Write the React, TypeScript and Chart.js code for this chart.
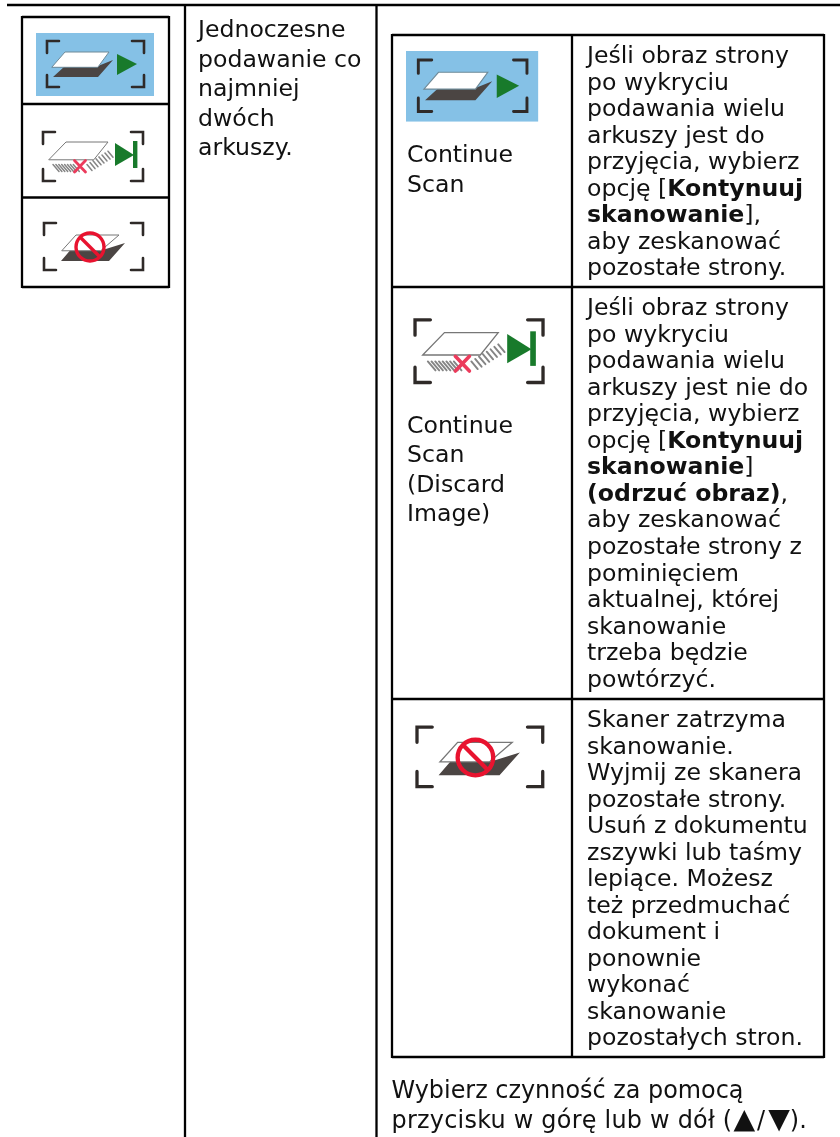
import React, { useEffect, useRef } from "react";
import { Chart, registerables } from "chart.js";

Chart.register(...registerables);

const FONT = '"DejaVu Sans", Verdana, sans-serif';
const FONT_SIZE = 23.6;

type Run = { t: string; b?: boolean; k?: number; dx?: number; ls?: number };
type Block = { x: number; y: number; step: number; size?: number; lines: (string | Run[])[] };

const leftLines = ["Jednoczesne", "podawanie co", "najmniej", "dwóch", "arkuszy."];
const continueLabel = ["Continue", "Scan"];
const discardLabel = ["Continue", "Scan", "(Discard", "Image)"];
const row1Lines: (string | Run[])[] = [
  "Jeśli obraz strony",
  "po wykryciu",
  "podawania wielu",
  "arkuszy jest do",
  "przyjęcia, wybierz",
  [{ t: "opcję [" }, { t: "Kontynuuj", b: true }],
  [{ t: "skanowanie", b: true }, { t: "]," }],
  "aby zeskanować",
  "pozostałe strony.",
];
const row2Lines: (string | Run[])[] = [
  "Jeśli obraz strony",
  "po wykryciu",
  "podawania wielu",
  "arkuszy jest nie do",
  "przyjęcia, wybierz",
  [{ t: "opcję [" }, { t: "Kontynuuj", b: true }],
  [{ t: "skanowanie", b: true }, { t: "]" }],
  [{ t: "(odrzuć obraz)", b: true }, { t: "," }],
  "aby zeskanować",
  "pozostałe strony z",
  "pominięciem",
  "aktualnej, której",
  "skanowanie",
  "trzeba będzie",
  "powtórzyć.",
];
const row3Lines: (string | Run[])[] = [
  "Skaner zatrzyma",
  "skanowanie.",
  "Wyjmij ze skanera",
  "pozostałe strony.",
  "Usuń z dokumentu",
  "zszywki lub taśmy",
  "lepiące. Możesz",
  "też przedmuchać",
  "dokument i",
  "ponownie",
  "wykonać",
  "skanowanie",
  "pozostałych stron.",
];
const footerLines: (string | Run[])[] = [
  "Wybierz czynność za pomocą",
  [
    { t: "przycisku w górę lub w dół (", ls: 0.25 },
    { t: "▲", k: 1.18, dx: 1 },
    { t: "/", dx: 2 },
    { t: "▼", k: 1.18, dx: 3 },
    { t: ")." },
  ],
];

const blocks: Block[] = [
  { x: 198, y: 37, step: 29.5, lines: leftLines },
  { x: 407, y: 162, step: 30, lines: continueLabel },
  { x: 407, y: 433, step: 29.4, lines: discardLabel },
  { x: 587, y: 63, step: 26.5, lines: row1Lines },
  { x: 587, y: 315, step: 26.55, lines: row2Lines },
  { x: 587, y: 727, step: 26.5, lines: row3Lines },
  { x: 391.5, y: 1098, step: 30, size: 23.9, lines: footerLines },
];

// [x1, y1, x2, y2] table rules
const rules: number[][] = [
  [7, 5, 840, 5],
  [185, 5, 185, 1137],
  [376.5, 5, 376.5, 1137],
  [22, 17, 169, 17],
  [22, 104, 169, 104],
  [22, 197.5, 169, 197.5],
  [22, 287, 169, 287],
  [22, 16, 22, 288],
  [169, 16, 169, 288],
  [392, 35, 824, 35],
  [392, 287, 824, 287],
  [392, 699, 824, 699],
  [392, 1057, 824, 1057],
  [392, 34, 392, 1058],
  [572, 34, 572, 1058],
  [824, 34, 824, 1058],
];

function poly(ctx: any, pts: number[][], fill?: string, stroke?: string, lw = 1) {
  ctx.beginPath();
  pts.forEach((p, i) => (i ? ctx.lineTo(p[0], p[1]) : ctx.moveTo(p[0], p[1])));
  ctx.closePath();
  if (fill) { ctx.fillStyle = fill; ctx.fill(); }
  if (stroke) { ctx.strokeStyle = stroke; ctx.lineWidth = lw; ctx.stroke(); }
}

function corners(ctx: any, x0: number, y0: number, x1: number, y1: number, a: number) {
  ctx.strokeStyle = "#2f2a28";
  ctx.lineWidth = 2.6;
  ctx.lineCap = "round";
  const c = [
    [x0, y0 + a, x0, y0, x0 + a, y0],
    [x1 - a, y0, x1, y0, x1, y0 + a],
    [x0, y1 - a, x0, y1, x0 + a, y1],
    [x1 - a, y1, x1, y1, x1, y1 - a],
  ];
  c.forEach((s) => {
    ctx.beginPath();
    ctx.moveTo(s[0], s[1]);
    ctx.lineTo(s[2], s[3]);
    ctx.lineTo(s[4], s[5]);
    ctx.stroke();
  });
}

// Icons are drawn in a local box at the small icon's size
function iconScan(ctx: any) {
  ctx.fillStyle = "#85c1e6";
  ctx.fillRect(0, 0, 118, 63);
  corners(ctx, 11, 8, 108, 54, 12);
  poly(ctx, [[17, 44], [29, 33], [62, 33], [77, 27], [62, 44]], "#4b4543");
  poly(ctx, [[16, 34], [29, 19], [73, 19], [62, 34]], "#ffffff", "#6f8a98", 1);
  poly(ctx, [[81, 21], [101, 31], [81, 42]], "#187a2b");
}
function iconDiscard(ctx: any) {
  corners(ctx, 9, 10, 109, 59, 12);
  ctx.strokeStyle = "#858585";
  ctx.lineWidth = 1.5;
  for (let x = 19; x < 40; x += 2.9) {
    ctx.beginPath();
    ctx.moveTo(x, 42.5);
    ctx.lineTo(x + 6, 49.5);
    ctx.stroke();
  }
  for (let i = 0; i < 8; i++) {
    const x = 53 + i * 3;
    const y = 42.5 - i * 1.9;
    ctx.beginPath();
    ctx.moveTo(x, y);
    ctx.lineTo(x + 5, y + 6);
    ctx.stroke();
  }
  poly(ctx, [[15, 37.5], [32, 20], [74, 20], [60, 37.5]], "#ffffff", "#777", 1);
  ctx.strokeStyle = "#ec3b5c";
  ctx.lineWidth = 2.8;
  ctx.beginPath();
  ctx.moveTo(40.5, 38.5); ctx.lineTo(51.5, 50);
  ctx.moveTo(51.5, 38.5); ctx.lineTo(40.5, 50);
  ctx.stroke();
  poly(ctx, [[81, 21], [100, 33], [81, 44]], "#187a2b");
  ctx.fillStyle = "#187a2b";
  ctx.fillRect(99, 19, 4.4, 27);
}
function iconStop(ctx: any) {
  corners(ctx, 10, 9, 109, 56, 12);
  poly(ctx, [[27, 47], [36, 36.5], [67, 36.5], [91, 29], [75, 47]], "#4b4543");
  poly(ctx, [[28, 36.5], [42, 21], [85, 21], [67, 36.5]], "#ffffff", "#777", 1);
  ctx.strokeStyle = "#e8132f";
  ctx.lineWidth = 3.4;
  ctx.lineCap = "butt";
  ctx.beginPath();
  ctx.arc(56, 33, 14, 0, Math.PI * 2);
  ctx.stroke();
  ctx.beginPath();
  ctx.moveTo(46, 23); ctx.lineTo(66, 43);
  ctx.stroke();
}

const icons: { x: number; y: number; s: number; draw: (c: any) => void }[] = [
  { x: 36, y: 33, s: 1, draw: iconScan },
  { x: 34, y: 122, s: 1, draw: iconDiscard },
  { x: 34, y: 214, s: 1, draw: iconStop },
  { x: 406, y: 51, s: 1.12, draw: iconScan },
  { x: 403.5, y: 307, s: 1.28, draw: iconDiscard },
  { x: 404.3, y: 715.6, s: 1.27, draw: iconStop },
];

const overlay = {
  id: "page",
  afterDatasetsDraw(chart: any) {
    const { ctx, scales } = chart;
    const X = (v: number) => scales.x.getPixelForValue(v);
    const Y = (v: number) => scales.y.getPixelForValue(v);
    ctx.save();
    icons.forEach((ic) => {
      ctx.save();
      ctx.translate(X(ic.x), Y(ic.y));
      ctx.scale(ic.s, ic.s);
      ctx.filter = "blur(0.45px)";
      ic.draw(ctx);
      ctx.restore();
    });
    ctx.fillStyle = "#111";
    ctx.textBaseline = "alphabetic";
    blocks.forEach((b) => {
      b.lines.forEach((ln, i) => {
        const runs: Run[] = typeof ln === "string" ? [{ t: ln }] : ln;
        let px = X(b.x);
        const py = Y(b.y + i * b.step);
        runs.forEach((r) => {
          const size = (b.size ?? FONT_SIZE) * (r.k ?? 1);
          ctx.font = `${r.b ? "bold " : ""}${size}px ${FONT}`;
          ctx.letterSpacing = `${r.ls ?? 0}px`;
          px += r.dx ?? 0;
          ctx.fillText(r.t, px, py);
          px += ctx.measureText(r.t).width;
        });
      });
    });
    ctx.restore();
  },
};

export default function App() {
  const ref = useRef<HTMLCanvasElement>(null);
  useEffect(() => {
    document.body.style.margin = "0";
    document.body.style.background = "#fff";
    const chart = new Chart(ref.current as HTMLCanvasElement, {
      type: "line",
      data: {
        datasets: rules.map((r) => ({
          data: [{ x: r[0], y: r[1] }, { x: r[2], y: r[3] }],
          borderColor: "#000",
          borderWidth: 2.3,
          pointRadius: 0,
          fill: false,
        })),
      },
      options: {
        animation: false,
        responsive: false,
        layout: { padding: 0 },
        plugins: { legend: { display: false }, tooltip: { enabled: false } },
        scales: {
          x: { type: "linear", min: 0, max: 840, display: false },
          y: { type: "linear", min: 0, max: 1137, reverse: true, display: false },
        },
      },
      plugins: [overlay],
    });
    return () => chart.destroy();
  }, []);
  return <canvas ref={ref} width={840} height={1137} style={{ display: "block" }} />;
}
